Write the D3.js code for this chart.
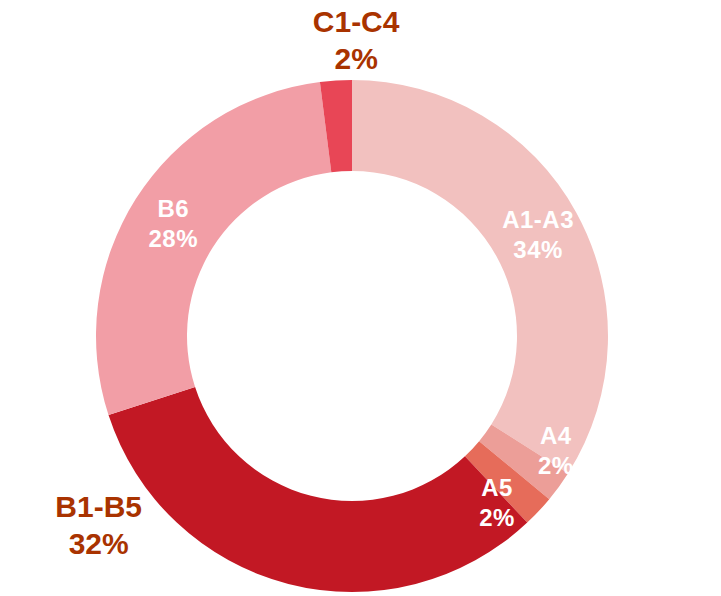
<!DOCTYPE html>
<html>
  <head>
    <meta charset="utf-8">
    <title>Donut</title>
    <script src="https://cdn.jsdelivr.net/npm/d3@7"></script>
    <style>
      body { margin: 0; background: #fff; }
      text { font-family: "Liberation Sans", Arial, sans-serif; font-weight: bold; }
    </style>
  </head>
  <body>
    <svg width="721" height="596"></svg>
    <script>
      var categories = ["A1-A3", "A4", "A5", "B1-B5", "B6", "C1-C4"];
      var values = [34, 2, 2, 32, 28, 2];
      var colors = ["#f2c1bf", "#ec9e98", "#e66c5a", "#c21824", "#f29ea6", "#e84656"];

      var svg = d3.select("svg");
      var cx = 352, cy = 336;
      var outerR = 256, innerR = 165;

      var pie = d3.pie().sort(null).value(function(d) { return d; });
      var arc = d3.arc().innerRadius(innerR).outerRadius(outerR);

      var slices = pie(values).map(function(d, i) {
        d.name = categories[i];
        d.color = colors[i];
        return d;
      });

      var g = svg.append("g").attr("transform", "translate(" + cx + "," + cy + ")");

      g.selectAll("path")
        .data(slices)
        .enter().append("path")
          .attr("d", arc)
          .attr("fill", function(d) { return d.color; });

      // label placement: angle shift from mid-angle (deg), radius, outside?
      var place = {
        "A1-A3": { da: 0.2, r: 212, out: false },
        "A4":    { da: -6.6, r: 234, out: false },
        "A5":    { da: 5.8, r: 221, out: false },
        "B1-B5": { da: 38.9, r: 316, out: true },
        "B6":    { da: -0.3, r: 211, out: false },
        "C1-C4": { da: 4.4, r: 296, out: true }
      };

      slices.forEach(function(d) {
        var p = place[d.name];
        var a = (d.startAngle + d.endAngle) / 2 + p.da * Math.PI / 180;
        var x = Math.sin(a) * p.r;
        var y = -Math.cos(a) * p.r;
        var size = p.out ? 30 : 24;
        var lh = p.out ? 37 : 30;
        var t = g.append("text")
          .attr("text-anchor", "middle")
          .attr("font-size", size)
          .attr("letter-spacing", p.out ? 0 : 0.5)
          .attr("fill", p.out ? "#a93300" : "#ffffff");
        t.append("tspan").attr("x", x).attr("y", y - lh / 2 + size * 0.358).text(d.name);
        t.append("tspan").attr("x", x).attr("y", y + lh / 2 + size * 0.358).text(Math.round(d.value) + "%");
      });
    </script>
  </body>
</html>
